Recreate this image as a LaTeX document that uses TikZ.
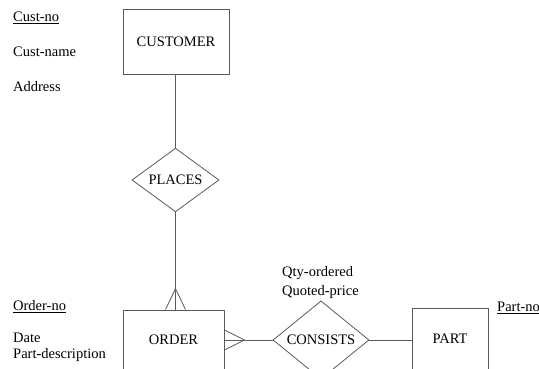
\documentclass[tikz,border=0pt]{standalone}
\usepackage{fontspec}
\setmainfont{Liberation Serif}
\usetikzlibrary{shapes.geometric,positioning}
\definecolor{erline}{RGB}{90,90,90}

\begin{document}
\begin{tikzpicture}[x=1pt,y=-1pt,
  erentity/.style={draw=erline,line width=0.8pt,inner sep=0pt,font=\fontsize{14.5}{16}\selectfont},
  errel/.style={draw=erline,line width=0.8pt,diamond,inner sep=0pt,font=\fontsize{14.5}{16}\selectfont},
  erattr/.style={anchor=west,inner sep=0pt,font=\fontsize{14.5}{16}\selectfont},
  erlink/.style={erline,line width=0.8pt}
]
  \clip (0,0) rectangle (539,369);
  % entities
  \node[erentity,minimum width=106pt,minimum height=65pt] (customer) at (176,41.5) {CUSTOMER};
  \node[erentity,minimum width=101pt,minimum height=60pt] (order) at (173.5,340) {ORDER};
  \node[erentity,minimum width=76pt,minimum height=62pt] (part) at (450,339) {PART};
  % relationships
  \node[errel,minimum width=87pt,minimum height=62pt] (places) at (175.5,180) {PLACES};
  \node[errel,minimum width=96pt,minimum height=62pt] (consists) at (321,340) {CONSISTS};
  % attributes
  \node[erattr] (custno) at (13,18) {\underline{Cust-no}};
  \node[erattr] (custname) at (13,52) {Cust-name};
  \node[erattr] (address) at (13,87) {Address};
  \node[erattr] (orderno) at (13,307) {\underline{Order-no}};
  \node[erattr] (date) at (13,338) {Date};
  \node[erattr] (partdesc) at (13,355) {Part-description};
  \node[erattr] (qty) at (282,273) {Qty-ordered};
  \node[erattr] (price) at (282,292) {Quoted-price};
  \node[erattr] (partno) at (497,308) {\underline{Part-no}};
  % connectors
  \draw[erlink] (customer.south -| places.north) -- (places.north);
  \draw[erlink] (places.south) -- (places.south |- order.north);
  \draw[erlink] (order.east) -- (consists.west);
  \draw[erlink] (consists.east) -- (consists.east -| part.west);
  % crow's feet
  \coordinate (crowtop) at ([yshift=21pt]places.south |- order.north);
  \draw[erlink] ([xshift=-10pt]places.south |- order.north) -- (crowtop) -- ([xshift=10pt]places.south |- order.north);
  \coordinate (crowright) at ([xshift=20pt]order.east);
  \draw[erlink] ([yshift=-10pt]order.east) -- (crowright) -- ([yshift=10pt]order.east);
\end{tikzpicture}
\end{document}
